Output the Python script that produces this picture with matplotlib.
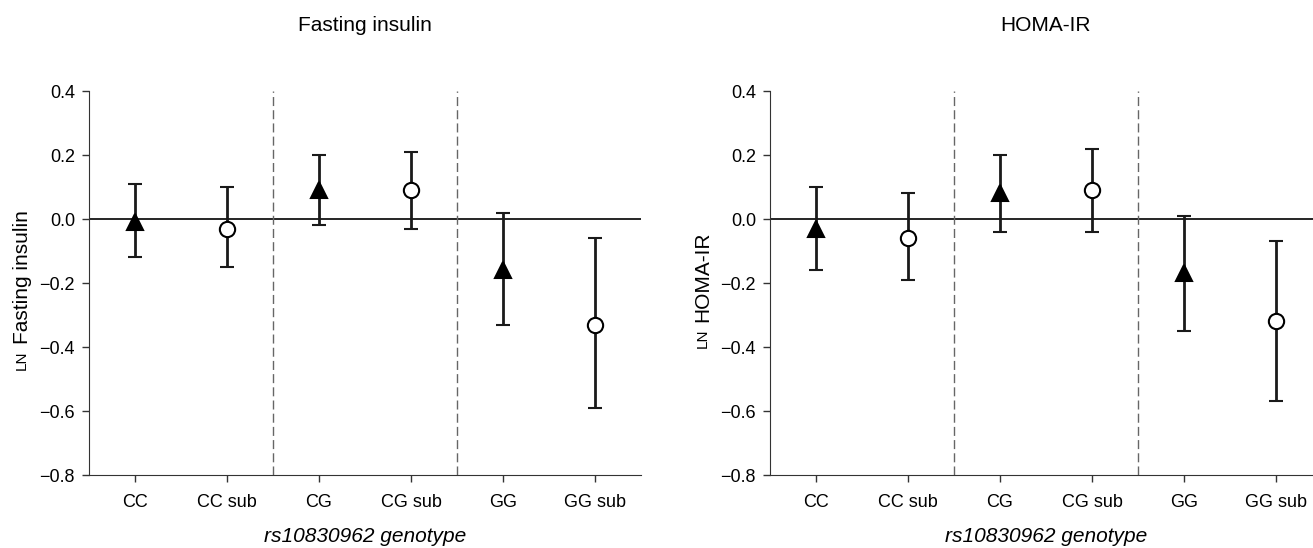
import matplotlib
matplotlib.use("Agg")
from matplotlib import pyplot as plt

plt.rcParams["font.family"] = ["Liberation Sans", "DejaVu Sans"]

groups = ["CC", "CC sub", "CG", "CG sub", "GG", "GG sub"]

fi_mean = [-0.01, -0.03, 0.09, 0.09, -0.16, -0.33]
fi_upper = [0.11, 0.10, 0.20, 0.21, 0.02, -0.06]
fi_lower = [-0.12, -0.15, -0.02, -0.03, -0.33, -0.59]

homa_mean = [-0.03, -0.06, 0.08, 0.09, -0.17, -0.32]
homa_upper = [0.10, 0.08, 0.20, 0.22, 0.01, -0.07]
homa_lower = [-0.16, -0.19, -0.04, -0.04, -0.35, -0.57]

panels = [
    ("Fasting insulin", "Fasting insulin", fi_mean, fi_upper, fi_lower),
    ("HOMA-IR", "HOMA-IR", homa_mean, homa_upper, homa_lower),
]

fig = plt.figure(figsize=(13.13, 5.48), dpi=100)
positions = [[89 / 1313, 1 - 475 / 548, 552 / 1313, 384 / 548],
             [770 / 1313, 1 - 475 / 548, 552 / 1313, 384 / 548]]

ylabels = []
for pos, (title, ylab, mean, upper, lower) in zip(positions, panels):
    ax = fig.add_axes(pos)
    x = list(range(1, len(groups) + 1))
    for i in range(len(groups)):
        err = [[mean[i] - lower[i]], [upper[i] - mean[i]]]
        if i % 2 == 0:
            mk, fc, ms = "^", "black", 12
        else:
            mk, fc, ms = "o", "white", 11
        ax.errorbar([x[i]], [mean[i]], yerr=err, fmt=mk, color="#1a1a1a",
                    mfc=fc, mec="black", mew=1.5, ms=ms, elinewidth=2,
                    capsize=4.8, capthick=2, zorder=3)
    ax.axhline(0, color="black", lw=1.2, zorder=1)
    for xv in [2.5, 4.5]:
        ax.axvline(xv, color="#666666", lw=1, ls=(0, (6.5, 3)), zorder=1)
    ax.set_xlim(0.5, 6.5)
    ax.set_ylim(-0.8, 0.4)
    ax.set_xticks(x)
    ax.set_xticklabels(groups)
    ax.set_yticks([-0.8, -0.6, -0.4, -0.2, 0.0, 0.2, 0.4])
    ax.set_yticklabels(["\u22120.8", "\u22120.6", "\u22120.4", "\u22120.2", "0.0", "0.2", "0.4"])
    ax.tick_params(direction="out", length=5, width=1, labelsize=13, color="#333333")
    ax.tick_params(axis="x", pad=9)
    ax.tick_params(axis="y", pad=5)
    ax.spines["top"].set_visible(False)
    ax.spines["right"].set_visible(False)
    ax.spines["left"].set_color("#333333")
    ax.spines["bottom"].set_color("#333333")
    ax.set_xlabel("rs10830962 genotype", fontsize=15, style="italic", labelpad=11)
    ax.set_title(title, fontsize=15, pad=43)
    # y label: small-caps "LN" followed by the measure name
    t_ln = ax.text(-0.121, 0.5, "LN", fontsize=11, rotation=90,
                   ha="center", va="bottom", transform=ax.transAxes)
    t_main = ax.text(-0.121, 0.5, ylab, fontsize=15, rotation=90,
                     ha="center", va="bottom", transform=ax.transAxes)
    ylabels.append((ax, t_ln, t_main))

fig.canvas.draw()
renderer = fig.canvas.get_renderer()
gap = 7
for ax, t_ln, t_main in ylabels:
    h_ln = t_ln.get_window_extent(renderer).height
    h_main = t_main.get_window_extent(renderer).height
    total = h_ln + gap + h_main
    ax_box = ax.get_window_extent(renderer)
    center = ax_box.y0 + ax_box.height / 2 - 7
    y0 = center - total / 2
    t_ln.set_y((y0 - ax_box.y0) / ax_box.height)
    t_main.set_y((y0 + h_ln + gap - ax_box.y0) / ax_box.height)

fig.savefig("out.png", dpi=100)
